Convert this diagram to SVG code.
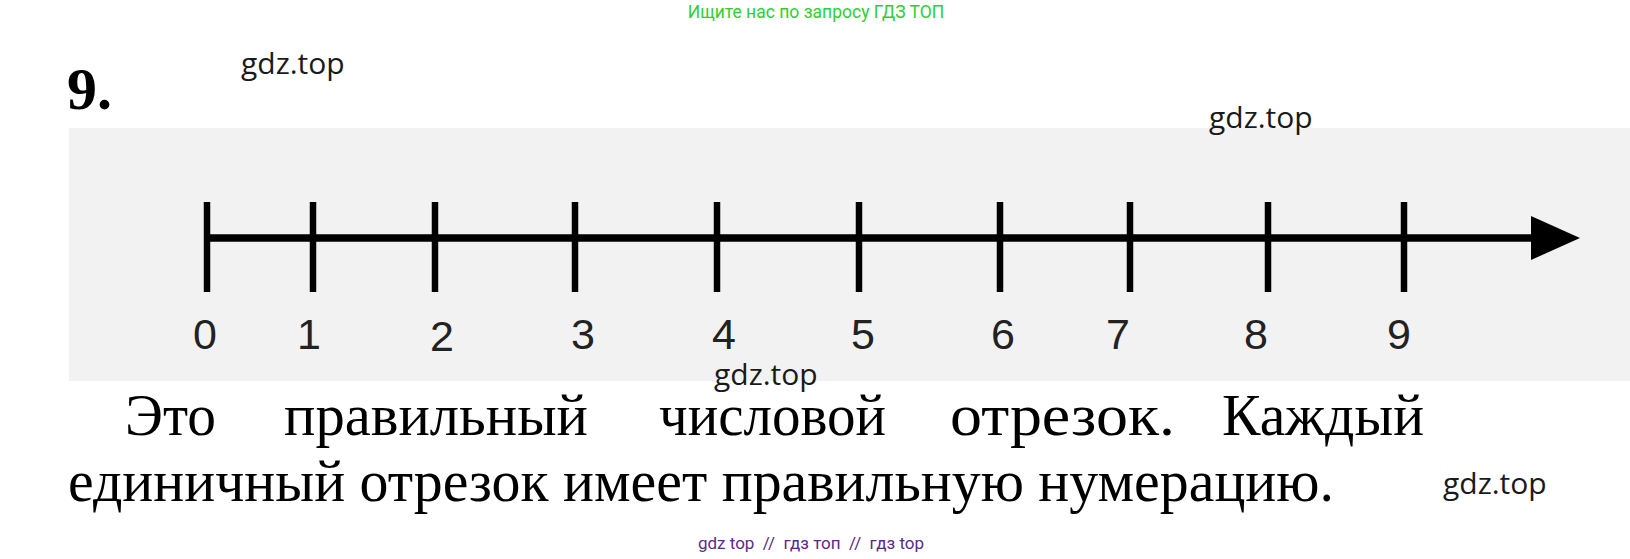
<svg xmlns="http://www.w3.org/2000/svg" width="1630" height="559" viewBox="0 0 1630 559">
<style>
.wm{font-family:"Open Sans",Roboto,"Liberation Sans",sans-serif;font-size:30px;fill:#1a1a1a}
.num{font-family:"Liberation Sans",Arial,sans-serif;font-size:43px;fill:#222;text-anchor:middle}
.body{font-family:"Liberation Serif","Times New Roman",serif;font-size:59px;fill:#000}
.tick{stroke:#000;stroke-width:6.5}
</style>
<rect width="1630" height="559" fill="#fff"/>
<text x="816" y="18" font-family="Roboto,'Liberation Sans',sans-serif" font-size="17.5" fill="#2fcf2f" text-anchor="middle">Ищите нас по запросу ГДЗ ТОП</text>
<text x="67" y="109" font-family="'Liberation Serif',serif" font-weight="bold" font-size="60" fill="#000">9.</text>
<text class="wm" x="241" y="74">gdz.top</text>
<g id="panel"><rect x="69" y="128" width="1561" height="253" fill="#f2f2f2"/></g>
<text class="wm" x="1209" y="128">gdz.top</text>
<g id="connectors">
<line x1="207" y1="238" x2="1536" y2="238" stroke="#000" stroke-width="7.5"/>
<polygon points="1531,216 1580,238 1531,260" fill="#000"/>
</g>
<g id="ticks">
<line class="tick" x1="207" y1="202" x2="207" y2="292"/>
<line class="tick" x1="313" y1="202" x2="313" y2="292"/>
<line class="tick" x1="435" y1="202" x2="435" y2="292"/>
<line class="tick" x1="575" y1="202" x2="575" y2="292"/>
<line class="tick" x1="717" y1="202" x2="717" y2="292"/>
<line class="tick" x1="859" y1="202" x2="859" y2="292"/>
<line class="tick" x1="1000" y1="202" x2="1000" y2="292"/>
<line class="tick" x1="1130" y1="202" x2="1130" y2="292"/>
<line class="tick" x1="1268" y1="202" x2="1268" y2="292"/>
<line class="tick" x1="1404" y1="202" x2="1404" y2="292"/>
</g>
<g id="labels">
<text class="num" x="205" y="349">0</text>
<text class="num" x="309" y="349">1</text>
<text class="num" x="442" y="351">2</text>
<text class="num" x="583" y="349">3</text>
<text class="num" x="724" y="349">4</text>
<text class="num" x="863" y="349">5</text>
<text class="num" x="1003" y="349">6</text>
<text class="num" x="1118" y="349">7</text>
<text class="num" x="1256" y="349">8</text>
<text class="num" x="1399" y="349">9</text>
</g>
<text class="wm" x="714" y="385">gdz.top</text>
<g id="body">
<text class="body" x="125" y="435" textLength="91" lengthAdjust="spacingAndGlyphs">Это</text>
<text class="body" x="284" y="435" textLength="304" lengthAdjust="spacingAndGlyphs">правильный</text>
<text class="body" x="659" y="435" textLength="227" lengthAdjust="spacingAndGlyphs">числовой</text>
<text class="body" x="950" y="435" textLength="225" lengthAdjust="spacingAndGlyphs">отрезок.</text>
<text class="body" x="1222" y="435" textLength="202" lengthAdjust="spacingAndGlyphs">Каждый</text>
<text class="body" x="68" y="501" textLength="1266" lengthAdjust="spacingAndGlyphs">единичный отрезок имеет правильную нумерацию.</text>
</g>
<text class="wm" x="1443" y="494">gdz.top</text>
<text x="811" y="549" font-family="Roboto,'Liberation Sans',sans-serif" font-size="17" fill="#5a2a8a" text-anchor="middle" xml:space="preserve">gdz top  //  гдз топ  //  гдз top</text>
</svg>
